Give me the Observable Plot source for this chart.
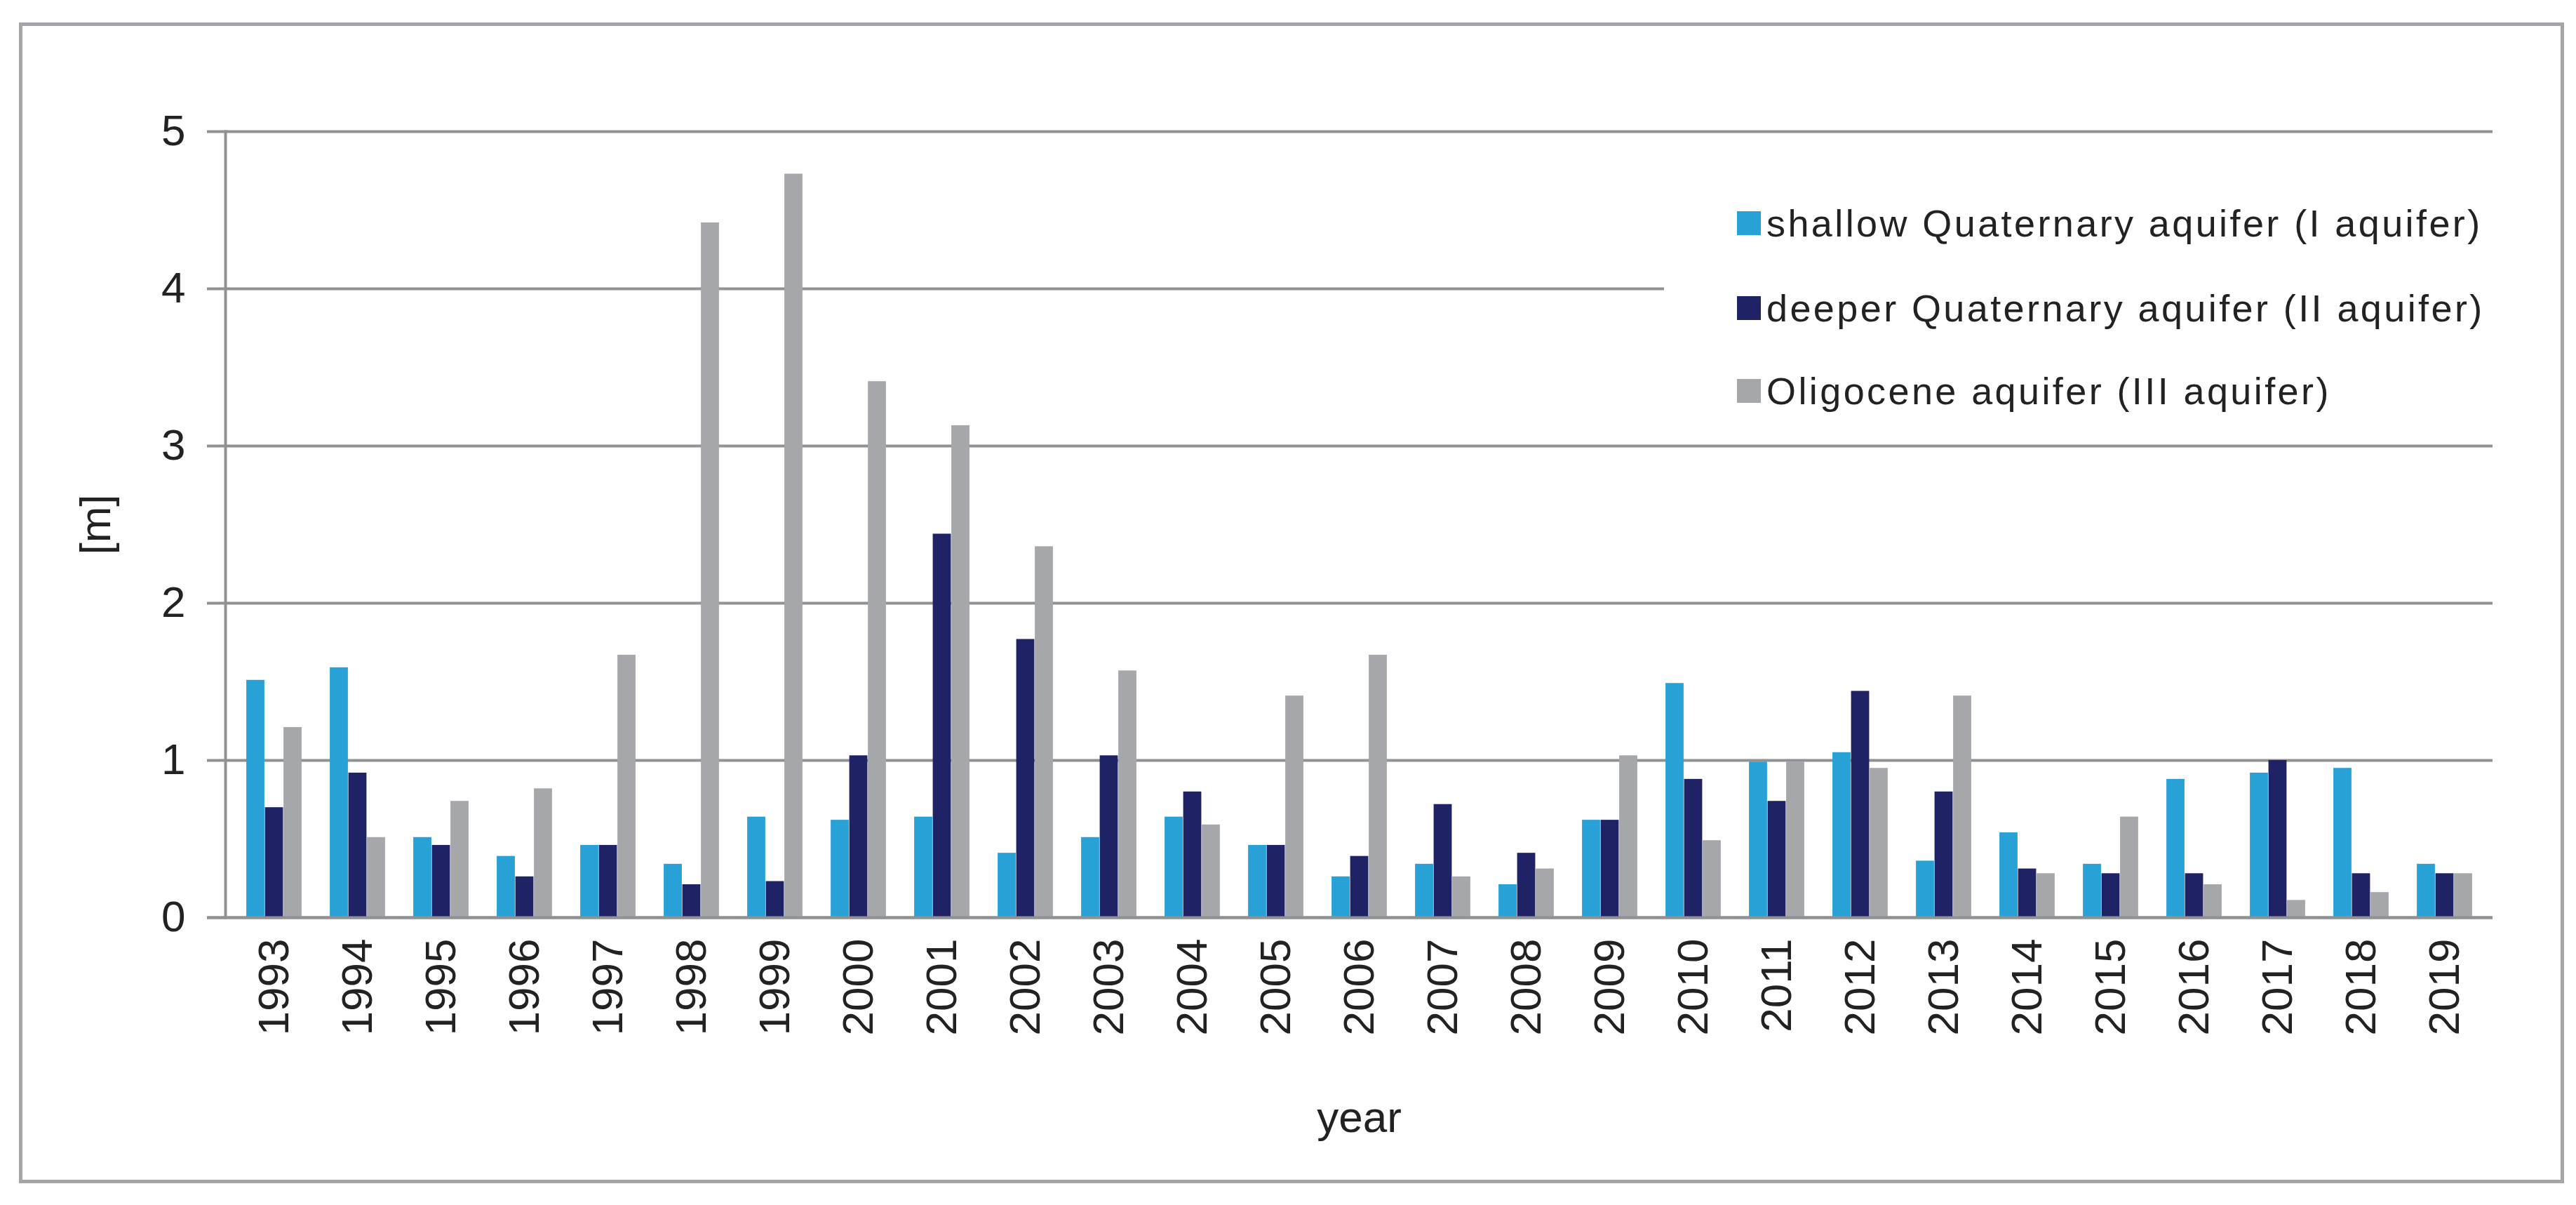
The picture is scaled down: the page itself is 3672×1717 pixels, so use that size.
<!DOCTYPE html>
<html>
<head>
<meta charset="utf-8">
<script src="https://cdn.jsdelivr.net/npm/d3@7"></script>
<script src="https://cdn.jsdelivr.net/npm/@observablehq/plot@0.6"></script>
<style>
  html, body { margin: 0; padding: 0; background: #fff; }
  #wrap { position: relative; width: 3672px; height: 1717px; overflow: hidden; font-family: "Liberation Sans", Arial, sans-serif; }
  #chart { position: absolute; left: 0; top: 0; }
  #border { position: absolute; left: 27px; top: 32px; width: 3618px; height: 1644px; border: 5px solid #a4a5a8; }
  #legend { position: absolute; left: 2372px; top: 255px; width: 1200px; height: 365px; background: #fff; }
  .item { position: absolute; left: 104px; height: 60px; display: flex; align-items: center; font-size: 54px; letter-spacing: 3.4px; color: #222; white-space: nowrap; }
  .sw { width: 34px; height: 34px; margin-right: 8px; flex: none; }
</style>
</head>
<body>
<div id="wrap">
  <div id="border"></div>
  <div id="chart"></div>
  <div id="legend"></div>
</div>
<script>
const years = ["1993","1994","1995","1996","1997","1998","1999","2000","2001","2002","2003","2004","2005","2006","2007","2008","2009","2010","2011","2012","2013","2014","2015","2016","2017","2018","2019"];
const seriesNames = ["shallow Quaternary aquifer (I aquifer)", "deeper Quaternary aquifer (II aquifer)", "Oligocene aquifer (III aquifer)"];
const shallow = [1.51,1.59,0.51,0.39,0.46,0.34,0.64,0.62,0.64,0.41,0.51,0.64,0.46,0.26,0.34,0.21,0.62,1.49,0.99,1.05,0.36,0.54,0.34,0.88,0.92,0.95,0.34];
const deeper  = [0.70,0.92,0.46,0.26,0.46,0.21,0.23,1.03,2.44,1.77,1.03,0.80,0.46,0.39,0.72,0.41,0.62,0.88,0.74,1.44,0.80,0.31,0.28,0.28,1.00,0.28,0.28];
const oligocene = [1.21,0.51,0.74,0.82,1.67,4.42,4.73,3.41,3.13,2.36,1.57,0.59,1.41,1.67,0.26,0.31,1.03,0.49,0.99,0.95,1.41,0.28,0.64,0.21,0.11,0.16,0.28];
const yTicks = [0,1,2,3,4,5];
const colors = ["#27a1d6", "#1f2366", "#a5a7aa"];

const seriesValues = [shallow, deeper, oligocene];

const W = 3672, H = 1717;
const mL = 321, mR = 119, mT = 187, mB = 410;
const band = (W - mL - mR) / years.length;
const barW = 26.5;
const pad = (band - 3 * barW) / 2;
const gridColor = "#8f9195";

const barMarks = seriesValues.map((vals, i) =>
  Plot.barY(years.map((y, j) => ({year: y, value: vals[j]})), {
    x: "year", y: "value", fill: colors[i],
    insetLeft: pad + i * barW,
    insetRight: band - pad - (i + 1) * barW
  })
);

const chart = Plot.plot({
  width: W, height: H,
  marginLeft: mL, marginRight: mR, marginTop: mT, marginBottom: mB,
  style: {fontFamily: "'Liberation Sans', Arial, sans-serif", fontSize: "62px", color: "#222", background: "transparent", overflow: "visible"},
  x: {domain: years, padding: 0},
  y: {domain: [0, 5]},
  marks: [
    Plot.ruleY(yTicks, {stroke: gridColor, strokeWidth: 4, insetLeft: -26}),
    ...barMarks,
    Plot.ruleY([0], {stroke: gridColor, strokeWidth: 4, insetLeft: -26}),
    Plot.frame({anchor: "left", stroke: gridColor, strokeWidth: 4}),
    Plot.axisY({ticks: yTicks, tickSize: 0, tickPadding: 57, tickFormat: d => String(d), label: "[m]", labelArrow: "none", labelAnchor: "center", labelOffset: 209}),
    Plot.axisX({tickRotate: -90, tickSize: 0, tickPadding: 30, label: "year", labelArrow: "none", labelAnchor: "center", labelOffset: 305})
  ]
});
document.getElementById("chart").appendChild(chart);

const legend = document.getElementById("legend");
const rowTops = [33, 154, 272];
seriesNames.forEach((name, i) => {
  const it = document.createElement("div");
  it.className = "item";
  it.style.top = rowTops[i] + "px";
  const sw = document.createElement("div");
  sw.className = "sw";
  sw.style.background = colors[i];
  it.appendChild(sw);
  const t = document.createElement("span");
  t.textContent = name;
  it.appendChild(t);
  legend.appendChild(it);
});
</script>
</body>
</html>
